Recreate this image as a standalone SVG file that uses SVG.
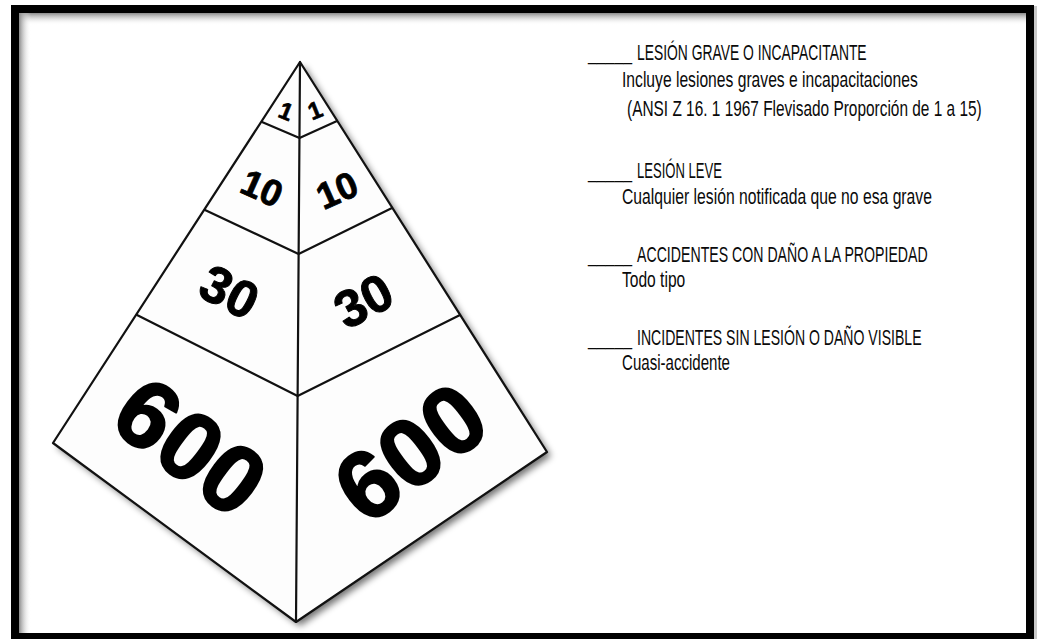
<svg xmlns="http://www.w3.org/2000/svg" width="1037" height="639" viewBox="0 0 1037 639">
  <style>
    .edge { fill: none; stroke: #111; stroke-width: 2.2; stroke-linejoin: round; stroke-linecap: round; }
    .num { font-family: "Liberation Sans", Arial, sans-serif; font-weight: bold; fill: #000; stroke: #000; stroke-linejoin: round; text-anchor: middle; }
    .lg { font-family: "Liberation Sans", Arial, sans-serif; font-size: 22px; fill: #0a0a0a; }
  </style>
  <defs>
    <filter id="shadow" x="-10%" y="-10%" width="130%" height="130%">
      <feGaussianBlur in="SourceAlpha" stdDeviation="3.5"/>
      <feOffset dx="4" dy="4" result="b"/>
      <feComponentTransfer><feFuncA type="linear" slope="0.55"/></feComponentTransfer>
      <feMerge><feMergeNode/><feMergeNode in="SourceGraphic"/></feMerge>
    </filter>
    <linearGradient id="gTop" x1="0" y1="0" x2="0" y2="1">
      <stop offset="0" stop-color="#8a8a8a"/>
      <stop offset="1" stop-color="#ffffff" stop-opacity="0"/>
    </linearGradient>
    <linearGradient id="gLeft" x1="0" y1="0" x2="1" y2="0">
      <stop offset="0" stop-color="#8a8a8a"/>
      <stop offset="1" stop-color="#ffffff" stop-opacity="0"/>
    </linearGradient>
  </defs>

  <rect width="1037" height="639" fill="#ffffff"/>
  <!-- frame -->
  <g id="frame">
    <rect x="19" y="13" width="1007" height="12" fill="url(#gTop)"/>
    <rect x="19" y="13" width="12" height="620" fill="url(#gLeft)"/>
    <rect x="1033" y="6" width="4" height="633" fill="#c8c8c8"/>
    <rect x="15" y="9" width="1015" height="628" fill="none" stroke="#000" stroke-width="8"/>
  </g>

  <!-- pyramid -->
  <g id="pyramid">
    <polygon points="300,62 53,443 296,622 547,452" fill="#fdfdfd" filter="url(#shadow)"/>
    <polygon class="edge" points="300,62 53,443 296,622 547,452"/>
    <line class="edge" x1="300" y1="62" x2="296" y2="622"/>
    <polyline class="edge" points="262,122 299.5,138 337,121"/>
    <polyline class="edge" points="205,210 298.6,254 392,208"/>
    <polyline class="edge" points="137,315 297.6,396 460,315"/>
  </g>

  <g id="tier1">
    <text class="num" font-size="24" stroke-width="0.6" transform="translate(286,111) rotate(22)" y="8.5">1</text>
    <text class="num" font-size="24" stroke-width="0.6" transform="translate(315,110) rotate(-22)" y="8.5">1</text>
  </g>
  <g id="tier2">
    <text class="num" font-size="37" stroke-width="0.8" transform="translate(262,188) rotate(24)" y="13">10</text>
    <text class="num" font-size="37" stroke-width="0.8" transform="translate(337,190) rotate(-24)" y="13">10</text>
  </g>
  <g id="tier3">
    <text class="num" font-size="52" stroke-width="1" transform="translate(230,291) rotate(27)" y="19">30</text>
    <text class="num" font-size="52" stroke-width="1" transform="translate(363,300) rotate(-28)" y="19">30</text>
  </g>
  <g id="tier4">
    <text class="num" font-size="96" stroke-width="2" transform="translate(191,446) rotate(37)" y="34">600</text>
    <text class="num" font-size="96" stroke-width="2" transform="translate(410,452) rotate(-37)" y="34">600</text>
  </g>

  <!-- legend -->
  <g id="legend1">
    <text class="lg" transform="translate(588,60) scale(0.72,1)">_____</text>
    <text class="lg" transform="translate(637,60) scale(0.631,1)">LESIÓN GRAVE O INCAPACITANTE</text>
    <text class="lg" transform="translate(622,87) scale(0.712,1)">Incluye lesiones graves e incapacitaciones</text>
    <text class="lg" transform="translate(627,116) scale(0.701,1)">(ANSI Z 16. 1 1967 Flevisado Proporción de 1 a 15)</text>
  </g>
  <g id="legend2">
    <text class="lg" transform="translate(588,178) scale(0.72,1)">_____</text>
    <text class="lg" transform="translate(637,178) scale(0.594,1)">LESIÓN LEVE</text>
    <text class="lg" transform="translate(622,204) scale(0.714,1)">Cualquier lesión notificada que no esa grave</text>
  </g>
  <g id="legend3">
    <text class="lg" transform="translate(588,262) scale(0.72,1)">_____</text>
    <text class="lg" transform="translate(637,262) scale(0.643,1)">ACCIDENTES CON DAÑO A LA PROPIEDAD</text>
    <text class="lg" transform="translate(622,287) scale(0.709,1)">Todo tipo</text>
  </g>
  <g id="legend4">
    <text class="lg" transform="translate(588,345) scale(0.72,1)">_____</text>
    <text class="lg" transform="translate(637,345) scale(0.64,1)">INCIDENTES SIN LESIÓN O DAÑO VISIBLE</text>
    <text class="lg" transform="translate(622,370) scale(0.685,1)">Cuasi-accidente</text>
  </g>
</svg>
